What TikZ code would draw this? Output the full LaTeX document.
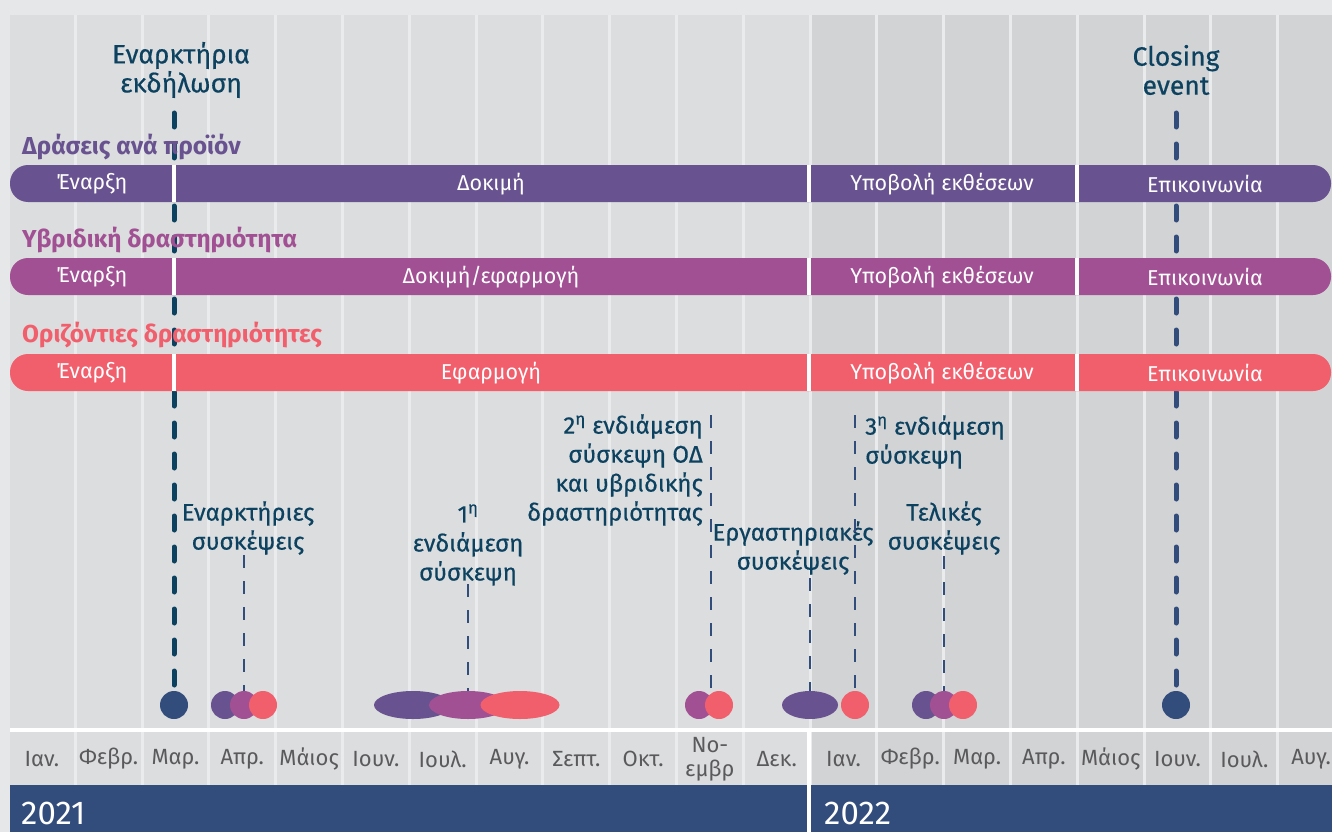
\documentclass[tikz,border=0pt]{standalone}
\usepackage{fontspec}
\setmainfont{Fira Sans}
\newfontfamily\notefont[FakeBold=0.5]{Fira Sans}
\usetikzlibrary{shapes.geometric}
\definecolor{outerGray}{RGB}{230,231,233}
\definecolor{colOld}{RGB}{220,221,223}
\definecolor{colNew}{RGB}{210,211,213}
\definecolor{sepGray}{RGB}{234,235,236}
\definecolor{prodPurple}{RGB}{104,82,143}
\definecolor{hybMagenta}{RGB}{161,80,147}
\definecolor{horCoral}{RGB}{241,95,108}
\definecolor{navyBand}{RGB}{50,76,124}
\definecolor{labelTeal}{RGB}{12,66,96}
\definecolor{monthGray}{RGB}{90,90,92}

\begin{document}
\begin{tikzpicture}[x=1pt,y=-1pt,
      note node/.style={text=labelTeal,font=\notefont\fontsize{24}{29}\selectfont,align=center,inner sep=0pt},
      top node/.style={text=labelTeal,font=\notefont\fontsize{26.5}{29}\selectfont,align=center,inner sep=0pt},
      head node/.style={font=\bfseries\fontsize{24.5}{27}\selectfont,anchor=west,inner sep=0pt},
      bar text/.style={text=white,font=\fontsize{21.5}{23}\selectfont,inner sep=0pt},
      month node/.style={text=monthGray,font=\fontsize{22}{24}\selectfont,align=center,inner sep=0pt},
      year node/.style={text=white,font=\fontsize{33}{36}\selectfont,anchor=west,inner sep=0pt},
      dot node/.style={circle,minimum size=28pt,inner sep=0pt},
      blob node/.style={ellipse,minimum height=28pt,inner sep=0pt},
      big dash/.style={line width=5pt,line cap=round,dash pattern=on 14pt off 17pt},
      small dash/.style={draw=navyBand,line width=2.6pt,dash pattern=on 13pt off 13pt}]
    \useasboundingbox (0,0) rectangle (1332,832);
    % background and month columns
    \fill[outerGray] (0,0) rectangle (1332,832);
    \fill[colOld] (10,15) rectangle (809,785);
    \fill[colNew] (809,15) rectangle (1332,785);
    \foreach \i in {1,...,19}
      \draw[sepGray,line width=3pt] ({8.5+66.8*\i},15) -- ({8.5+66.8*\i},785);
    \draw[white,line width=4pt] (10,730) -- (1332,730);
    \fill[navyBand] (10,785) rectangle (1332,832);
    \draw[white,line width=4pt] (809,730) -- (809,832);
    \foreach \m [count=\i from 0] in {Ιαν.,Φεβρ.,Μαρ.,Απρ.,Μάιος,Ιουν.,Ιουλ.,Αυγ.,Σεπτ.,Οκτ.,{Νο-\\εμβρ},Δεκ.,Ιαν.,Φεβρ.,Μαρ.,Απρ.,Μάιος,Ιουν.,Ιουλ.,Αυγ.}
      \node[month node] (m\i) at ({41.9+66.8*\i},759) {\m};
    \node[year node] (y2021) at (21,813) {2021};
    \node[year node] (y2022) at (824,813) {2022};

    % meetings
    \node[dot node,fill=navyBand] (dotOpen) at (174,705) {};
    \node[dot node,fill=prodPurple] (aprP) at (225,705) {};
    \node[dot node,fill=hybMagenta] (aprM) at (244,705) {};
    \node[dot node,fill=horCoral] (aprC) at (263,705) {};
    \node[blob node,minimum width=78pt,fill=prodPurple] (julP) at (413,705) {};
    \node[blob node,minimum width=78pt,fill=hybMagenta] (julM) at (468,705) {};
    \node[blob node,minimum width=79pt,fill=horCoral] (julC) at (520,705) {};
    \node[dot node,fill=hybMagenta] (novM) at (699,705) {};
    \node[dot node,fill=horCoral] (novC) at (719,705) {};
    \node[blob node,minimum width=56pt,fill=prodPurple] (decP) at (810,705) {};
    \node[dot node,fill=horCoral] (janC) at (855,705) {};
    \node[dot node,fill=prodPurple] (marP) at (926,705) {};
    \node[dot node,fill=hybMagenta] (marM) at (944,705) {};
    \node[dot node,fill=horCoral] (marC) at (963,705) {};
    \node[dot node,fill=navyBand] (dotClose) at (1176,705) {};

    \coordinate (openTop) at (174,113);
    \coordinate (closeTop) at (1176,113);
    \path (openTop) edge[big dash,draw=labelTeal] (dotOpen)
          (closeTop) edge[big dash,draw=navyBand] (dotClose);

    % activity bars
    \fill[prodPurple,rounded corners=18pt] (10,165) rectangle (1331,202);
    \fill[hybMagenta,rounded corners=18pt] (10,258) rectangle (1331,295);
    \fill[horCoral,rounded corners=18pt] (10,354) rectangle (1331,391);
    \foreach \y in {165,258,354}
      \foreach \x in {174,809,1077}
        \draw[white,line width=3.5pt] (\x,\y) -- (\x,\y+37);

    \node[head node,text=prodPurple] (prodHead) at (22,147) {Δράσεις ανά προϊόν};
    \node[head node,text=hybMagenta] (hybHead) at (22,240) {Υβριδική δραστηριότητα};
    \node[head node,text=horCoral] (horHead) at (22,335) {Οριζόντιες δραστηριότητες};

    \node[bar text] (pStart) at (92,184) {Έναρξη};
    \node[bar text] (pTest) at (491,184) {Δοκιμή};
    \node[bar text] (pReport) at (942,184) {Υποβολή εκθέσεων};
    \node[bar text] (pComm) at (1205,184) {Επικοινωνία};
    \node[bar text] (hStart) at (92,277) {Έναρξη};
    \node[bar text] (hTest) at (491,277) {Δοκιμή/εφαρμογή};
    \node[bar text] (hReport) at (942,277) {Υποβολή εκθέσεων};
    \node[bar text] (hComm) at (1205,277) {Επικοινωνία};
    \node[bar text] (cStart) at (92,373) {Έναρξη};
    \node[bar text] (cApply) at (491,373) {Εφαρμογή};
    \node[bar text] (cReport) at (942,373) {Υποβολή εκθέσεων};
    \node[bar text] (cComm) at (1205,373) {Επικοινωνία};

    % labels
    \node[top node] (opening) at (181,70) {Εναρκτήρια\\εκδήλωση};
    \node[top node] (closing) at (1176,70) {Closing\\event};
    \node[note node] (kickoff) at (248,528) {Εναρκτήριες\\συσκέψεις};
    \node[note node] (first) at (468,545) {1\textsuperscript{η}\\ενδιάμεση\\σύσκεψη};
    \node[note node,align=right,anchor=east] (second) at (703,470) {2\textsuperscript{η} ενδιάμεση\\σύσκεψη ΟΔ\\και υβριδικής\\δραστηριότητας};
    \node[note node] (workshop) at (793,548) {Εργαστηριακές\\συσκέψεις};
    \node[note node,align=left,anchor=west] (third) at (865,442) {3\textsuperscript{η} ενδιάμεση\\σύσκεψη};
    \node[note node] (final) at (944,528) {Τελικές\\συσκέψεις};

    \coordinate (kickTop) at (244,555);
    \coordinate (firstTop) at (468,584);
    \coordinate (secondTop) at (711,415);
    \coordinate (secondEnd) at (711,692);
    \coordinate (workTop) at (810,578);
    \coordinate (thirdTop) at (855,415);
    \coordinate (finalTop) at (944,556);
    \path (kickTop) edge[small dash] (aprM)
          (firstTop) edge[small dash] (julM)
          (secondTop) edge[small dash] (secondEnd)
          (workTop) edge[small dash] (decP)
          (thirdTop) edge[small dash] (janC)
          (finalTop) edge[small dash] (marM);
  \end{tikzpicture}
\end{document}
